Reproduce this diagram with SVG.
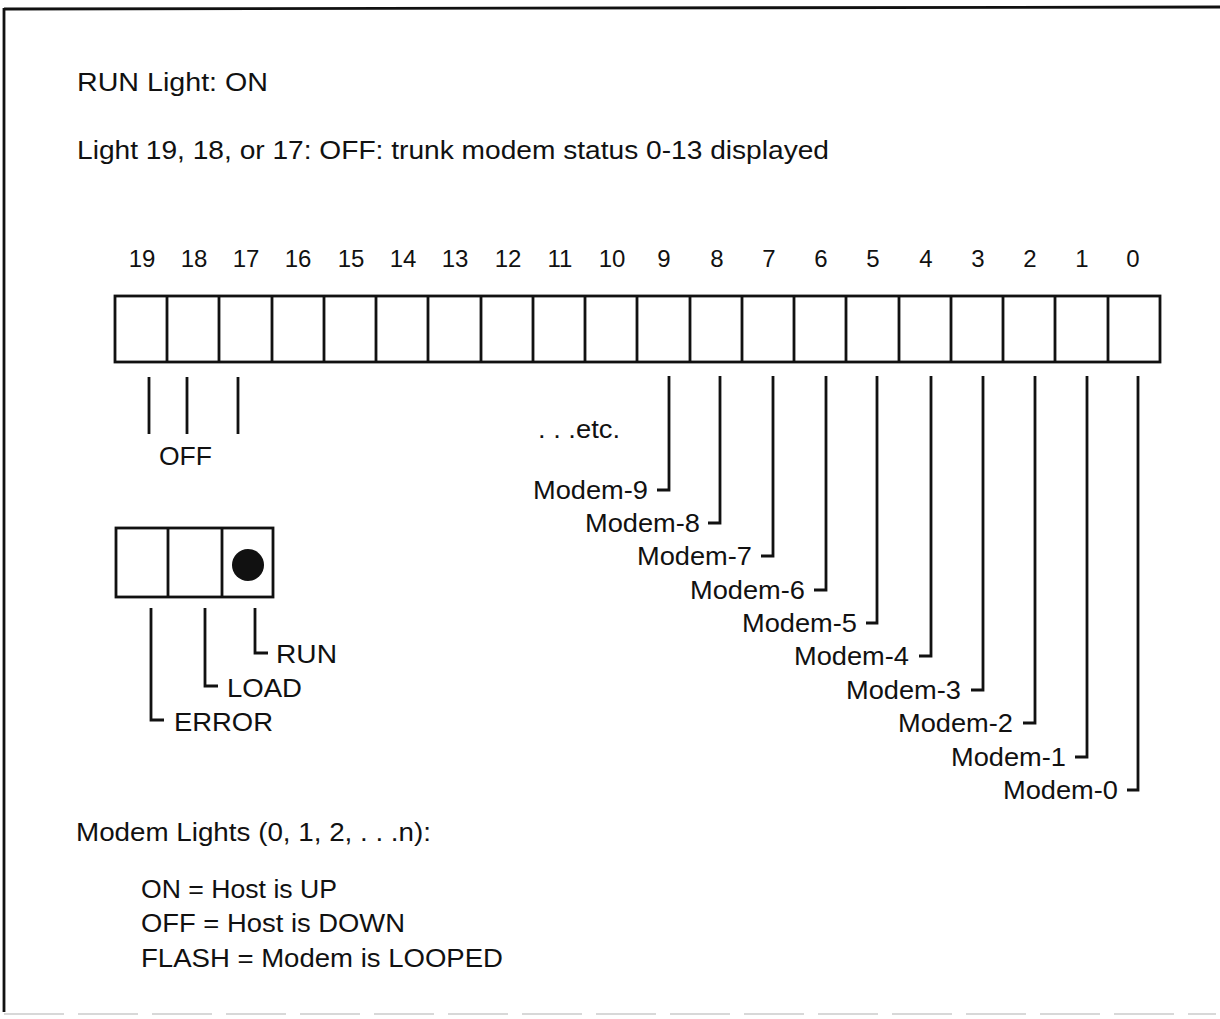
<svg xmlns="http://www.w3.org/2000/svg" width="1220" height="1019" viewBox="0 0 1220 1019">
<style>
.t{font-family:"Liberation Sans",Arial,Helvetica,sans-serif;font-size:26px;fill:#111}
.n{font-family:"Liberation Sans",Arial,Helvetica,sans-serif;font-size:24px;fill:#111;text-anchor:middle}
.m{font-family:"Liberation Sans",Arial,Helvetica,sans-serif;font-size:26px;fill:#111;text-anchor:end}
.box{fill:#fff;stroke:#111;stroke-width:2.8}
.ln{fill:none;stroke:#111;stroke-width:2.8}
</style>
<rect width="1220" height="1019" fill="#fff"/>
<g id="frame">
<path d="M4 9 L1220 7" class="ln" stroke-width="3.2"/>
<path d="M4 8 V1012" class="ln" stroke-width="2.5"/>
<path d="M4 1014 H1216" fill="none" stroke="#ccc" stroke-width="1.5" stroke-dasharray="60 14"/>
</g>
<g id="header">
<text class="t" x="77" y="91" textLength="191" lengthAdjust="spacingAndGlyphs">RUN Light:  ON</text>
<text class="t" x="77" y="159" textLength="752" lengthAdjust="spacingAndGlyphs">Light 19, 18, or 17:  OFF:  trunk modem status 0-13 displayed</text>
</g>
<g id="numbers">
<text class="n" x="142" y="267">19</text>
<text class="n" x="194" y="267">18</text>
<text class="n" x="246" y="267">17</text>
<text class="n" x="298" y="267">16</text>
<text class="n" x="351" y="267">15</text>
<text class="n" x="403" y="267">14</text>
<text class="n" x="455" y="267">13</text>
<text class="n" x="508" y="267">12</text>
<text class="n" x="560" y="267">11</text>
<text class="n" x="612" y="267">10</text>
<text class="n" x="664" y="267">9</text>
<text class="n" x="717" y="267">8</text>
<text class="n" x="769" y="267">7</text>
<text class="n" x="821" y="267">6</text>
<text class="n" x="873" y="267">5</text>
<text class="n" x="926" y="267">4</text>
<text class="n" x="978" y="267">3</text>
<text class="n" x="1030" y="267">2</text>
<text class="n" x="1082" y="267">1</text>
<text class="n" x="1133" y="267">0</text>
</g>
<g id="light-row">
<rect class="box" x="115" y="296" width="1045" height="66"/>
<path class="ln" d="M167 296V362M219 296V362M272 296V362M324 296V362M376 296V362M428 296V362M481 296V362M533 296V362M585 296V362M637 296V362M690 296V362M742 296V362M794 296V362M846 296V362M899 296V362M951 296V362M1003 296V362M1055 296V362M1108 296V362"/>
</g>
<g id="status-box">
<rect class="box" x="116" y="528" width="157" height="69"/>
<path class="ln" d="M168 528V597M222 528V597"/>
<circle cx="248" cy="565" r="16" fill="#111"/>
</g>
<g id="connectors">
<path class="ln" d="M149 377V434M187 377V434M238 377V434"/>
<path class="ln" d="M669 376V490H657"/>
<path class="ln" d="M720 376V523H708"/>
<path class="ln" d="M773 376V556H761"/>
<path class="ln" d="M826 376V590H814"/>
<path class="ln" d="M877 376V623H866"/>
<path class="ln" d="M931 376V656H919"/>
<path class="ln" d="M983 376V690H971"/>
<path class="ln" d="M1035 376V723H1023"/>
<path class="ln" d="M1087 376V757H1075"/>
<path class="ln" d="M1138 376V790H1127"/>
<path class="ln" d="M151 608V720H164"/>
<path class="ln" d="M205 608V686H218"/>
<path class="ln" d="M255 608V653H268"/>
</g>
<g id="labels">
<text class="t" x="159" y="465" textLength="53" lengthAdjust="spacingAndGlyphs">OFF</text>
<text class="t" x="538" y="438" textLength="82" lengthAdjust="spacingAndGlyphs">. . .etc.</text>
<text class="m" x="648" y="499" textLength="115" lengthAdjust="spacingAndGlyphs">Modem-9</text>
<text class="m" x="700" y="532" textLength="115" lengthAdjust="spacingAndGlyphs">Modem-8</text>
<text class="m" x="752" y="565" textLength="115" lengthAdjust="spacingAndGlyphs">Modem-7</text>
<text class="m" x="805" y="599" textLength="115" lengthAdjust="spacingAndGlyphs">Modem-6</text>
<text class="m" x="857" y="632" textLength="115" lengthAdjust="spacingAndGlyphs">Modem-5</text>
<text class="m" x="909" y="665" textLength="115" lengthAdjust="spacingAndGlyphs">Modem-4</text>
<text class="m" x="961" y="699" textLength="115" lengthAdjust="spacingAndGlyphs">Modem-3</text>
<text class="m" x="1013" y="732" textLength="115" lengthAdjust="spacingAndGlyphs">Modem-2</text>
<text class="m" x="1066" y="766" textLength="115" lengthAdjust="spacingAndGlyphs">Modem-1</text>
<text class="m" x="1118" y="799" textLength="115" lengthAdjust="spacingAndGlyphs">Modem-0</text>
<text class="t" x="276" y="663" textLength="61" lengthAdjust="spacingAndGlyphs">RUN</text>
<text class="t" x="227" y="697" textLength="75" lengthAdjust="spacingAndGlyphs">LOAD</text>
<text class="t" x="174" y="731" textLength="99" lengthAdjust="spacingAndGlyphs">ERROR</text>
</g>
<g id="legend">
<text class="t" x="76" y="841" textLength="355" lengthAdjust="spacingAndGlyphs">Modem Lights (0, 1, 2, . . .n):</text>
<text class="t" x="141" y="898" textLength="196" lengthAdjust="spacingAndGlyphs">ON = Host is UP</text>
<text class="t" x="141" y="932" textLength="264" lengthAdjust="spacingAndGlyphs">OFF = Host is DOWN</text>
<text class="t" x="141" y="967" textLength="362" lengthAdjust="spacingAndGlyphs">FLASH = Modem is LOOPED</text>
</g>
</svg>
